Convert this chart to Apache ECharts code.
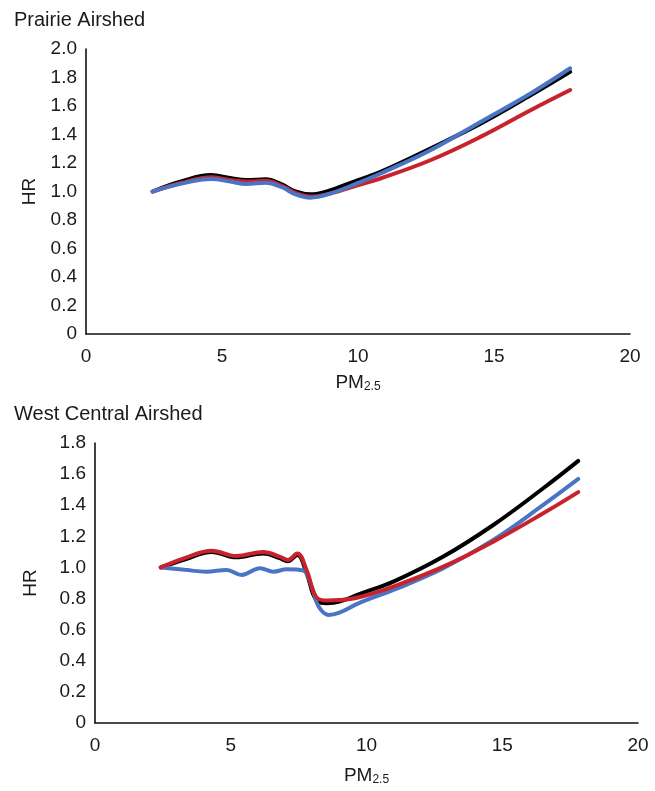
<!DOCTYPE html>
<html>
<head>
<meta charset="utf-8">
<script src="https://cdn.jsdelivr.net/npm/echarts@6/dist/echarts.min.js"></script>
<style>html,body{margin:0;padding:0;background:#fff}#c{width:655px;height:791px}</style>
</head>
<body>
<div id="c"></div>
<script>
// Prairie Airshed
var topX     = [2.45, 3.5, 4.6, 5.3, 5.9, 6.6, 7.2, 7.7, 8.25, 9.0, 10.0, 10.85, 12.68, 14.52, 16.36, 17.8];
var topBlack = [1.0, 1.07, 1.115, 1.095, 1.08, 1.086, 1.05, 1.0, 0.98, 1.01, 1.08, 1.139, 1.303, 1.478, 1.677, 1.84];
var topRed   = [1.0, 1.06, 1.10, 1.08, 1.07, 1.075, 1.04, 0.99, 0.965, 0.987, 1.045, 1.093, 1.221, 1.385, 1.572, 1.712];
var topBlue  = [1.0, 1.055, 1.088, 1.07, 1.053, 1.062, 1.03, 0.98, 0.957, 0.987, 1.06, 1.128, 1.291, 1.49, 1.69, 1.865];

// West Central Airshed
var botX     = [2.42, 3.3, 4.3, 5.2, 6.2, 6.8, 7.1, 7.45, 7.8, 8.15, 8.55, 9.0, 9.76, 10.99, 12.83, 14.67, 16.51, 17.8];
var botBlack = [1.0, 1.05, 1.10, 1.065, 1.09, 1.06, 1.04, 1.08, 0.96, 0.79, 0.77, 0.78, 0.83, 0.909, 1.07, 1.273, 1.509, 1.685];
var botRed   = [1.0, 1.06, 1.108, 1.074, 1.10, 1.07, 1.048, 1.09, 0.98, 0.81, 0.787, 0.79, 0.81, 0.877, 1.005, 1.166, 1.348, 1.484];
var botBlueX = [2.42, 3.3, 4.1, 4.85, 5.4, 6.08, 6.57, 7.06, 7.67, 7.98, 8.23, 8.6, 9.0, 9.76, 10.99, 12.83, 14.67, 16.51, 17.8];
var botBlue  = [1.0, 0.985, 0.973, 0.984, 0.952, 0.995, 0.973, 0.988, 0.98, 0.877, 0.75, 0.695, 0.71, 0.774, 0.855, 0.995, 1.177, 1.402, 1.569];

var titles = ['Prairie Airshed', 'West Central Airshed'];
var xName = 'PM';
var xSub = '2.5';
var yName = 'HR';

function pairs(xs, ys) { return xs.map(function (x, i) { return [x, ys[i]]; }); }

var FONT = 'Liberation Sans, Arial, Helvetica, sans-serif';
var TXT = '#1a1a1a';
var FS = 19;
var C_BLACK = '#000000', C_RED = '#c8232c', C_BLUE = '#4a74c4';

function xAx(gi, gap) {
  return {
    gridIndex: gi, type: 'value', min: 0, max: 20, interval: 5,
    axisLine: { show: true, lineStyle: { color: '#111', width: 1.6 } },
    axisTick: { show: false }, splitLine: { show: false },
    axisLabel: { color: TXT, fontSize: FS, fontFamily: FONT, margin: 13 },
    name: '{a|' + xName + '}{b|' + xSub + '}', nameLocation: 'middle', nameGap: gap,
    nameTextStyle: { rich: {
      a: { fontSize: FS, fontFamily: FONT, color: TXT },
      b: { fontSize: 12, fontFamily: FONT, color: TXT, verticalAlign: 'bottom', padding: [9, 0, 0, 0] }
    } }
  };
}
function yAx(gi, max, gap) {
  return {
    gridIndex: gi, type: 'value', min: 0, max: max, interval: 0.2,
    axisLine: { show: true, lineStyle: { color: '#111', width: 1.6 } },
    axisTick: { show: false }, splitLine: { show: false },
    axisLabel: { color: TXT, fontSize: FS, fontFamily: FONT, margin: 9,
      formatter: function (v) { return v === 0 ? '0' : v.toFixed(1); } },
    name: yName, nameLocation: 'middle', nameGap: gap, nameRotate: 90,
    nameTextStyle: { fontSize: FS, fontFamily: FONT, color: TXT }
  };
}
function ser(xi, data, color) {
  return { type: 'line', xAxisIndex: xi, yAxisIndex: xi, data: data, smooth: 0.4,
    showSymbol: false, symbol: 'none', lineStyle: { color: color, width: 4, cap: 'round' } };
}

var chart = echarts.init(document.getElementById('c'), null, { renderer: 'canvas' });
chart.setOption({
  animation: false,
  title: [
    { text: titles[0], left: 9, top: 5, textStyle: { fontSize: 20, fontWeight: 'normal', fontFamily: FONT, color: TXT } },
    { text: titles[1], left: 9, top: 399, textStyle: { fontSize: 20, fontWeight: 'normal', fontFamily: FONT, color: TXT } }
  ],
  grid: [
    { left: 86, right: 25, top: 49, height: 285 },
    { left: 95, right: 17, top: 443, height: 280 }
  ],
  xAxis: [xAx(0, 38), xAx(1, 42)],
  yAxis: [yAx(0, 2.0, 47), yAx(1, 1.8, 55)],
  series: [
    ser(0, pairs(topX, topBlack), C_BLACK),
    ser(0, pairs(topX, topRed), C_RED),
    ser(0, pairs(topX, topBlue), C_BLUE),
    ser(1, pairs(botX, botBlack), C_BLACK),
    ser(1, pairs(botBlueX, botBlue), C_BLUE),
    ser(1, pairs(botX, botRed), C_RED)
  ]
});
</script>
</body>
</html>
